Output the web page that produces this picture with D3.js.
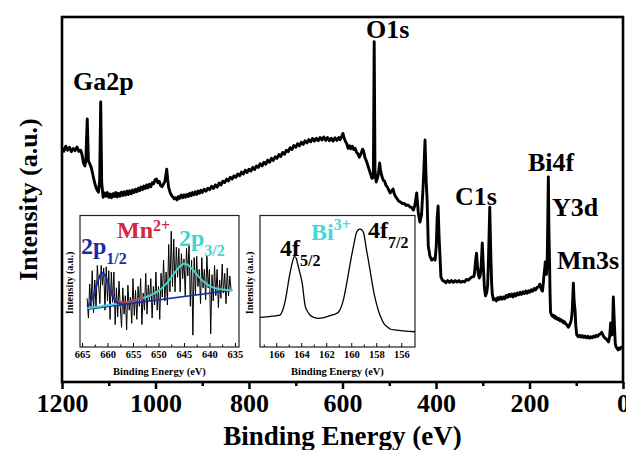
<!DOCTYPE html>
<html>
<head>
<meta charset="utf-8">
<script src="https://cdn.jsdelivr.net/npm/d3@7"></script>
<style>
  body { margin: 0; background: #fff; }
  text { font-family: "Liberation Serif", "Times New Roman", serif; font-weight: bold; }
</style>
</head>
<body>
<svg id="chart" width="626" height="450"></svg>
<script>
// survey spectrum, [binding energy (eV), intensity (a.u.)]
var survey = [
  [1200,64.1],[1196,63.2],[1192,64.6],[1188,63.5],[1184,64.3],[1180,63.1],[1176,64.0],[1172,63.4],
  [1168,64.4],[1164,63.2],[1160,63.5],[1157,62.2],[1154,60.0],[1151,59.2],[1149,60.8],[1146,72.1],
  [1143.5,60.5],[1140,59.6],[1137,58.6],[1134,56.8],[1131,55.0],[1128,53.6],[1125,52.6],[1122,52.0],
  [1119.5,55.0],[1117.2,76.7],[1115,54.5],[1112,50.6],[1109,51.8],[1106,50.9],[1103,51.9],[1100,50.6],
  [1097,51.5],[1094,50.5],[1091,51.6],[1088,50.8],[1085,51.9],[1082,50.7],[1079,51.7],[1076,50.9],
  [1073,52.0],[1070,51.1],[1067,52.1],[1064,51.2],[1061,52.3],[1058,51.4],[1055,52.4],[1052,51.6],
  [1049,52.6],[1046,51.9],[1043,52.8],[1040,52.1],[1037,53.1],[1034,52.4],[1031,53.4],[1028,52.7],
  [1025,53.7],[1022,53.0],[1019,54.0],[1016,53.2],[1013,54.2],[1010,53.5],[1007,54.6],[1004,54.3],
  [1001,55.4],[998,55.6],[995,54.6],[992,55.0],[989,53.8],[986,53.5],[983,54.2],[980,54.9],
  [977.5,57.0],[976,58.3],[974,55.5],[972,53.4],[969,52.0],[966,51.2],[963,50.7],[960,50.2],
  [957,50.5],[954,49.9],[951,50.8],[948,50.3],[945,51.2],[942,50.5],[939,51.3],[936,50.6],
  [933,51.4],[930,50.8],[927,51.7],[924,51.0],[921,51.9],[918,51.3],[915,52.1],[912,51.4],
  [909,52.3],[906,51.7],[903,52.5],[900,51.9],[896,52.8],[892,52.3],[888,53.1],[884,52.7],
  [880,53.6],[876,53.0],[872,54.0],[868,53.4],[864,54.5],[860,54.0],[856,55.0],[852,54.6],
  [848,55.6],[844,55.1],[840,56.1],[836,55.6],[832,56.5],[828,56.1],[824,57.0],[820,56.5],
  [816,57.5],[812,57.0],[808,58.0],[804,57.4],[800,58.3],[796,57.8],[792,58.8],[788,58.2],
  [784,59.2],[780,58.8],[776,59.8],[772,59.2],[768,60.2],[764,59.7],[760,60.8],[756,60.2],
  [752,61.3],[748,60.7],[744,61.7],[740,61.3],[736,62.3],[732,61.8],[728,62.9],[724,62.4],
  [720,63.5],[716,63.1],[712,64.2],[708,63.7],[704,64.8],[700,64.3],[696,65.3],[692,64.7],
  [688,65.7],[684,65.1],[680,66.1],[676,65.5],[672,66.4],[668,65.8],[664,66.7],[660,66.0],
  [656,66.8],[652,66.1],[648,67.0],[644,66.3],[640,67.1],[636,66.2],[632,67.0],[628,66.1],
  [624,66.8],[620,66.0],[616,66.9],[612,66.2],[608,67.0],[605,66.4],[602,67.2],[599,68.1],
  [597,67.0],[594,66.0],[591,65.3],[588,64.0],[585,64.7],[582,63.9],[579,64.6],[576,63.7],
  [573,64.0],[570,63.0],[567,62.5],[564,61.6],[561,62.4],[557,63.8],[555,63.3],[552,61.5],
  [549,60.6],[546,59.4],[543,58.2],[540,57.0],[537,55.8],[534,56.0],[532.2,93.2],[530.5,58.0],
  [528,54.8],[525,56.0],[523,57.2],[520.5,60.0],[519,58.3],[516.5,56.7],[513,55.3],[510,55.0],
  [507,53.9],[504,53.4],[501,52.6],[498,51.8],[495,52.3],[492,52.9],[489,51.5],[486,50.7],
  [483,50.2],[480,49.6],[476,49.3],[472,48.9],[468,48.9],[464,48.4],[460,48.5],[456,48.0],
  [452,47.8],[448.5,47.1],[445,48.5],[441.3,51.8],[438,46.6],[434.5,43.8],[431,45.7],[428,52.6],
  [426,58.0],[423.5,66.3],[421,55.0],[419,49.9],[416.5,37.3],[413,34.5],[409,33.4],[405,33.8],
  [402,33.4],[399.5,37.0],[397.5,45.0],[395.5,48.2],[393.5,40.0],[391.5,34.5],[389.5,28.8],[386,27.8],
  [383,27.7],[379,27.2],[375,27.8],[371,27.3],[367,27.8],[363,27.3],[359,27.8],[355,27.4],
  [351,27.8],[347,27.3],[343,27.6],[339,27.4],[335,28.1],[331,27.9],[327,28.4],[323,28.8],
  [319,28.9],[317.5,30.0],[315.5,33.0],[313.3,35.3],[311.5,32.0],[309.5,29.5],[307.4,28.5],[305.5,29.2],
  [303.5,31.5],[301,38.1],[298.5,31.0],[296.5,26.0],[294.2,23.6],[291.5,24.5],[289.5,26.5],[287.5,35.0],
  [285,47.9],[283,36.0],[281,27.0],[279.5,24.0],[277,22.5],[274,22.8],[271,22.2],[268,23.1],
  [265,22.6],[262,23.3],[259,22.7],[256,23.3],[253,22.8],[250,23.7],[247,23.2],[244,24.0],
  [241,23.4],[238,24.1],[235,23.3],[232,24.2],[229,23.6],[226,24.4],[223,23.9],[220,24.6],
  [217,24.0],[214,24.7],[211,24.2],[208,24.9],[205,24.3],[202,25.0],[199,24.6],[196,25.3],
  [193,24.9],[190,25.6],[187,25.2],[184,25.9],[181,26.0],[178,26.8],[176,26.0],[174,25.2],
  [172.2,24.9],[170.5,27.0],[169,29.3],[167.5,31.0],[166.2,32.9],[165,31.0],[163.8,29.5],[162,34.0],
  [160.8,45.0],[159.7,56.2],[158.5,42.0],[157.2,33.4],[156,24.0],[155,19.2],[153,18.4],[151,18.0],
  [149,18.3],[147,17.6],[145,18.0],[143,17.3],[141,17.6],[139,17.1],[137,17.4],[135,16.8],
  [133,17.1],[131,16.6],[129,16.8],[127,16.2],[125,16.5],[123,16.0],[121,15.8],[119,15.4],
  [117,15.0],[115.5,15.3],[113,16.0],[111,16.8],[109.5,18.0],[108,21.0],[106.2,27.1],[104.5,22.0],
  [102.6,19.7],[101,15.5],[99,12.9],[96,12.4],[93,12.8],[90,12.3],[87,12.7],[84,12.2],
  [81,12.6],[78,12.1],[75,12.5],[72,12.0],[69,12.4],[66,12.1],[63,12.6],[60,12.3],
  [57,12.8],[54,12.5],[51.3,13.0],[48,13.2],[45.5,13.6],[43,12.9],[40.6,12.3],[37,11.9],
  [34.2,11.5],[31,11.0],[28.5,12.5],[26.3,16.2],[24.8,13.5],[23.5,12.9],[22,16.0],[20.7,23.3],
  [19.4,19.0],[18.1,15.0],[16.5,10.5],[14.9,9.6],[12.5,9.2],[10.7,8.8],[8.5,9.3],[6.4,9.0],
  [4,9.5],[1.1,9.6],[0,9.8]
];
var mainTicks = [1200, 1000, 800, 600, 400, 200, 0];
var peakNames = ['Ga2p', 'O1s', 'C1s', 'Bi4f', 'Y3d', 'Mn3s'];

// Mn 2p high resolution, 0.25 eV steps from 664 eV
var mnStart = 664, mnStep = 0.25;
var mnCounts = [
  37,22,48,30,58,26,51,29,62,48,
  33,62,47,60,28,61,35,58,21,57,
  34,57,17,45,23,50,31,15,45,25,
  39,13,47,28,38,18,52,24,43,21,
  46,31,52,17,41,28,56,25,47,35,
  52,22,46,32,57,28,46,21,56,38,
  66,35,57,32,78,42,88,46,82,42,
  76,53,75,42,71,52,67,39,75,54,
  78,31,66,9,68,40,69,46,59,33,
  68,45,59,36,69,45,59,10,55,35,
  62,39,59,30,51,37,63,41,56,33,
  60,39,54,43
];
var mnBackground = [[664,28.8],[635.5,43.2]];
var mnFit12 = [[664,30.4],[663.5,32.9],[663,36.9],[662.5,42.6],[662,48.9],[661.5,54.2],[661,56.3],
  [660.5,54.7],[660,49.9],[659.5,44.1],[659,38.9],[658.5,35.4],[658,33.4],[657.5,32.7],[657,32.5],[656.5,32.6]];
var mnEnvelope = [[659,40.0],[658.5,36.6],[658,34.6],[657.5,34.0],[657,33.9],[656.5,34.1],[656,34.4],
  [655.5,34.8],[655,35.2],[654,36.1],[653,37.3]];
var mnFit32 = [[664,29.4],[663,30.0],[662,30.6],[661,31.1],[660,31.7],[659,32.3],[658,33.0],[657,33.7],
  [656,34.4],[655,35.2],[654,36.1],[653,37.3],[652,38.6],[651,40.4],[650,42.7],[649,45.9],[648,50.3],
  [647,55.5],[646,60.5],[645.5,62.1],[645,63.3],[644.5,62.9],[644,61.7],[643,57.7],[642,53.0],[641,49.2],
  [640,46.5],[639,44.9],[638,44.0],[637,43.5],[636,43.2],[635.5,43.2]];
var mnTicks = [665, 660, 655, 650, 645, 640, 635];

// Bi 4f high resolution
var biSpectrum = [[167.3,22.6],[166.8,22.9],[166.3,23.4],[165.9,23.9],[165.7,24.3],[165.5,27.5],[165.3,34.4],
  [165.15,42],[165.0,51],[164.85,58.5],[164.7,64.9],[164.55,68.7],[164.4,67.5],[164.3,63.6],[164.1,56],
  [163.9,47.1],[163.8,39],[163.7,31.9],[163.5,27],[163.3,24.3],[163.0,22.6],[162.6,21.8],[162.2,22.3],
  [161.7,23.8],[161.3,25.0],[161.0,26.8],[160.8,30.5],[160.6,37],[160.4,46.5],[160.2,57.3],[160.0,68],
  [159.8,77.6],[159.6,86.5],[159.45,89.0],[159.3,89.7],[159.15,89.0],[159.0,86.5],[158.8,75],[158.65,67],
  [158.5,58.6],[158.35,50],[158.2,42],[158.0,33.5],[157.8,26.8],[157.6,21.8],[157.4,18],[157.1,15.2],
  [156.9,13.7],[156.4,12.8],[155.8,12.2],[155.4,11.9],[154.9,11.6]];
var biTicks = [166, 164, 162, 160, 158, 156];

var svg = d3.select('#chart');
svg.append('rect').attr('width', 626).attr('height', 450).attr('fill', '#fff');

// main plot
var x = d3.scaleLinear().domain([1200, 0]).range([62, 623]);
var y = d3.scaleLinear().domain([0, 100]).range([382, 17]);

var line = d3.line()
  .x(function(d) { return x(d[0]); })
  .y(function(d) { return y(d[1]); });

svg.append('path')
  .datum(survey)
  .attr('d', line)
  .attr('fill', 'none')
  .attr('stroke', '#000')
  .attr('stroke-width', 2.9)
  .attr('stroke-linejoin', 'round');

var minor = svg.append('g').attr('transform', 'translate(0,382)')
  .call(d3.axisBottom(x).tickValues(d3.range(1100, 0, -200)).tickSize(4).tickFormat(''));
var major = svg.append('g').attr('transform', 'translate(0,382)')
  .call(d3.axisBottom(x).tickValues(mainTicks).tickSize(7).tickPadding(5).tickFormat(d3.format('d')));
[minor, major].forEach(function(g) {
  g.select('.domain').remove();
  g.selectAll('line').attr('stroke', '#000').attr('stroke-width', 2.5);
});
major.selectAll('text')
  .attr('fill', '#000')
  .style('font-size', '26px')
  .style('font-family', '"Liberation Serif", serif')
  .style('font-weight', 'bold');

svg.append('rect')
  .attr('x', 62).attr('y', 17).attr('width', 561).attr('height', 365)
  .attr('fill', 'none').attr('stroke', '#000').attr('stroke-width', 2.6);

svg.append('text')
  .attr('x', 342.5).attr('y', 445)
  .attr('text-anchor', 'middle')
  .style('font-size', '27px')
  .text('Binding Energy (eV)');

svg.append('text')
  .attr('transform', 'translate(37,199.5) rotate(-90)')
  .attr('text-anchor', 'middle')
  .style('font-size', '26px')
  .text('Intensity (a.u.)');

var peakPos = [[73, 90], [366, 38], [455, 205], [528, 171], [552, 216], [557, 269]];
peakNames.forEach(function(name, i) {
  svg.append('text')
    .attr('x', peakPos[i][0]).attr('y', peakPos[i][1])
    .style('font-size', '26px')
    .text(name);
});

// inset helper
function inset(x0, x1, domain, ticks, minorTicks) {
  var g = svg.append('g');
  g.append('rect')
    .attr('x', x0).attr('y', 215.5).attr('width', x1 - x0).attr('height', 131.5)
    .attr('fill', '#fff');
  var sx = d3.scaleLinear().domain(domain).range([x0, x1]);
  var sy = d3.scaleLinear().domain([0, 100]).range([347, 215.5]);
  var ax = g.append('g').attr('transform', 'translate(0,347)')
    .call(d3.axisBottom(sx).tickValues(ticks).tickSize(-4).tickPadding(4));
  ax.select('.domain').remove();
  ax.selectAll('line').attr('stroke', '#000').attr('stroke-width', 1);
  ax.selectAll('text')
    .attr('fill', '#000')
    .style('font-size', '10.5px')
    .style('font-family', '"Liberation Serif", serif')
    .style('font-weight', 'bold');
  var mx = g.append('g').attr('transform', 'translate(0,347)')
    .call(d3.axisBottom(sx).tickValues(minorTicks).tickSize(-2.5).tickFormat(''));
  mx.select('.domain').remove();
  mx.selectAll('line').attr('stroke', '#000').attr('stroke-width', 1);
  g.append('text')
    .attr('x', (x0 + x1) / 2).attr('y', 375)
    .attr('text-anchor', 'middle')
    .style('font-size', '10.5px')
    .text('Binding Energy (eV)');
  g.append('text')
    .attr('transform', 'translate(' + (x0 - 7) + ',283) rotate(-90)')
    .attr('text-anchor', 'middle')
    .style('font-size', '10px')
    .text('Intensity (a.u.)');
  return {g: g, x: sx, y: sy, x0: x0, x1: x1};
}

function drawFrame(ins) {
  ins.g.append('rect')
    .attr('x', ins.x0).attr('y', 215.5).attr('width', ins.x1 - ins.x0).attr('height', 131.5)
    .attr('fill', 'none').attr('stroke', '#222').attr('stroke-width', 1.2);
}

function curve(ins, data, color, width) {
  var l = d3.line()
    .curve(d3.curveMonotoneX)
    .x(function(d) { return ins.x(d[0]); })
    .y(function(d) { return ins.y(d[1]); });
  ins.g.append('path')
    .datum(data)
    .attr('d', l)
    .attr('fill', 'none')
    .attr('stroke', color)
    .attr('stroke-width', width)
    .attr('stroke-linejoin', 'round');
}

function label(g, x0, y0, main, small, dy, color) {
  var t = g.append('text').attr('x', x0).attr('y', y0).attr('fill', color).style('font-size', '24px');
  t.append('tspan').text(main);
  t.append('tspan').attr('dy', dy).style('font-size', '16px').text(small);
}

// Mn 2p inset
var mn = inset(80, 239, [665.4, 634.2], mnTicks, d3.range(662.5, 634, -5));
var mnData = mnCounts.map(function(v, i) { return [mnStart - i * mnStep, v]; });
mn.g.append('path')
  .datum(mnData)
  .attr('d', d3.line().x(function(d) { return mn.x(d[0]); }).y(function(d) { return mn.y(d[1]); }))
  .attr('fill', 'none').attr('stroke', '#000').attr('stroke-width', 1);
curve(mn, mnBackground, '#1c2aa6', 1.6);
curve(mn, mnFit32, '#3fd6cf', 2);
curve(mn, mnEnvelope, '#c42a46', 1.6);
curve(mn, mnFit12, '#1c2aa6', 2);
drawFrame(mn);
label(mn.g, 117, 237.5, 'Mn', '2+', -7, '#d3283c');
label(mn.g, 81, 254, '2p', '1/2', 10, '#1c2aa6');
label(mn.g, 179, 246, '2p', '3/2', 10, '#3fd6cf');

// Bi 4f inset
var bi = inset(260, 415, [167.3, 154.9], biTicks, d3.range(167, 155, -2));
curve(bi, biSpectrum, '#000', 1.3);
drawFrame(bi);
label(bi.g, 311, 240, 'Bi', '3+', -10, '#44d8d8');
label(bi.g, 280, 256, '4f', '5/2', 10, '#000');
label(bi.g, 368, 238, '4f', '7/2', 10, '#000');
</script>
</body>
</html>
